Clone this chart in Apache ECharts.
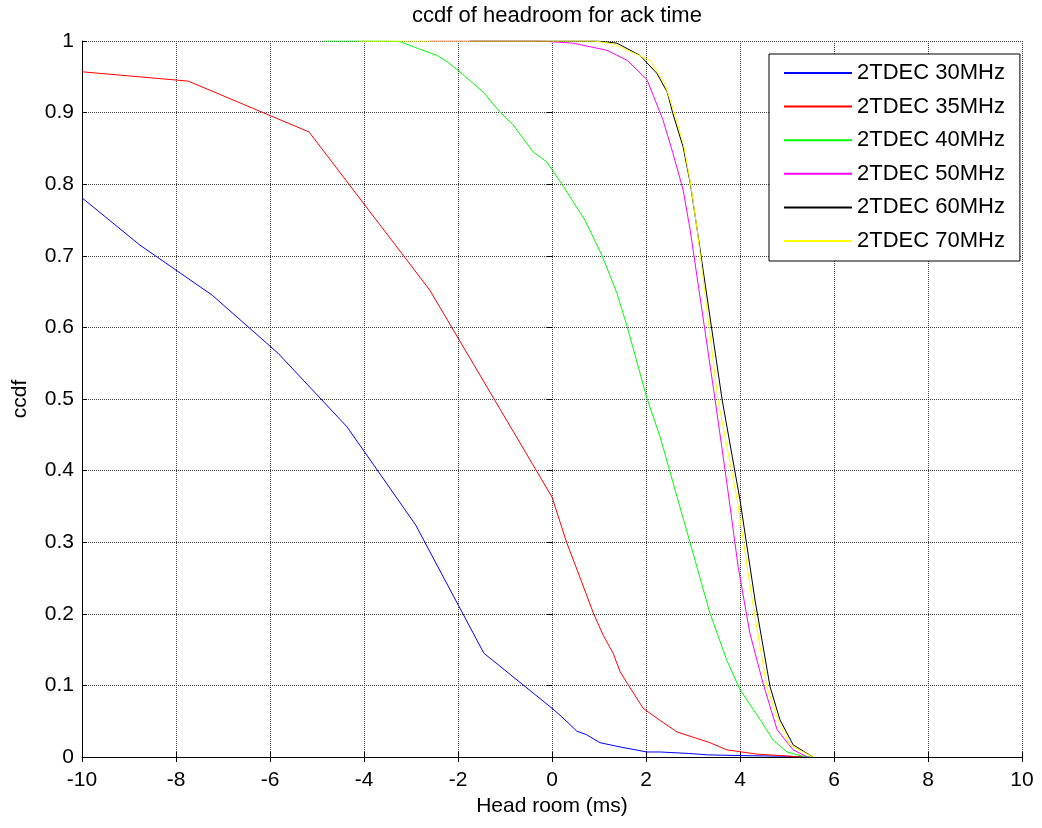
<!DOCTYPE html>
<html>
<head>
<meta charset="utf-8">
<title>ccdf of headroom for ack time</title>
<script src="https://cdn.jsdelivr.net/npm/echarts@6/dist/echarts.min.js"></script>
<style>
  html, body { margin: 0; padding: 0; background: #fff; }
  #chart { width: 1042px; height: 828px; }
</style>
</head>
<body>
<div id="chart"></div>
<script>
// Head room (ms) vs ccdf, one curve per TDEC clock
const seriesNames = ['2TDEC 30MHz', '2TDEC 35MHz', '2TDEC 40MHz', '2TDEC 50MHz', '2TDEC 60MHz', '2TDEC 70MHz'];
const seriesColors = ['#0000ff', '#ff0000', '#00ff00', '#ff00ff', '#000000', '#ffff00'];

const tdec30 = [
  [-10, 0.781], [-8.77, 0.715], [-7.23, 0.645], [-5.83, 0.564], [-4.36, 0.461],
  [-2.9, 0.324], [-1.45, 0.145], [0.02, 0.067], [0.21, 0.056], [0.53, 0.036],
  [0.74, 0.031], [1.02, 0.020], [1.45, 0.014], [2.02, 0.007], [2.3, 0.007],
  [2.9, 0.005], [3.3, 0.003], [4.0, 0.002], [5.0, 0.001], [5.5, 0]
];
const tdec35 = [
  [-10, 0.957], [-7.74, 0.944], [-5.17, 0.873], [-2.6, 0.652], [0.0, 0.363],
  [0.31, 0.30], [0.6, 0.25], [0.88, 0.201], [1.09, 0.170], [1.30, 0.145],
  [1.45, 0.119], [1.6, 0.103], [1.94, 0.068], [2.3, 0.051], [2.66, 0.035],
  [3.36, 0.020], [3.72, 0.010], [4.36, 0.004], [5.34, 0]
];
const tdec40 = [
  [-4.87, 1.0], [-3.51, 1.0], [-3.23, 0.999], [-2.87, 0.990], [-2.45, 0.980],
  [-2.23, 0.971], [-2.0, 0.959], [-1.47, 0.929], [-1.11, 0.901], [-0.83, 0.883],
  [-0.40, 0.845], [-0.11, 0.831], [0.21, 0.80], [0.70, 0.75], [1.06, 0.701],
  [1.38, 0.648], [1.60, 0.601], [2.02, 0.501], [2.30, 0.447], [2.77, 0.338],
  [2.94, 0.299], [3.36, 0.201], [3.72, 0.135], [4.0, 0.094], [4.43, 0.052],
  [4.70, 0.024], [5.0, 0.007], [5.34, 0.001], [5.5, 0]
];
const tdec50 = [
  [-2.6, 1.0], [-0.26, 1.0], [0.45, 0.997], [1.17, 0.987], [1.6, 0.973],
  [2.02, 0.946], [2.36, 0.890], [2.57, 0.844], [2.79, 0.792], [2.94, 0.736],
  [3.47, 0.499], [3.72, 0.383], [3.96, 0.266], [4.21, 0.173], [4.49, 0.103],
  [4.79, 0.038], [5.13, 0.010], [5.43, 0]
];
const tdec60 = [
  [-1.75, 1.0], [0.96, 1.0], [1.38, 0.997], [1.87, 0.980], [2.23, 0.955],
  [2.45, 0.929], [2.57, 0.899], [2.79, 0.852], [2.94, 0.802], [3.09, 0.736],
  [3.62, 0.499], [4.0, 0.359], [4.32, 0.219], [4.64, 0.098], [4.85, 0.052],
  [5.13, 0.017], [5.55, 0]
];
const tdec70 = [
  [-4.1, 1.0], [0.9, 1.0], [1.3, 0.996], [2.09, 0.973], [2.4, 0.94],
  [2.6, 0.9], [2.8, 0.855], [2.95, 0.80], [3.09, 0.736], [3.53, 0.499],
  [3.94, 0.359], [4.26, 0.219], [4.57, 0.098], [4.81, 0.052], [5.06, 0.017],
  [5.55, 0]
];
const seriesData = [tdec30, tdec35, tdec40, tdec50, tdec60, tdec70];

const xTicks = { min: -10, max: 10, interval: 2 };
const yTicks = { min: 0, max: 1, interval: 0.1 };

const FONT = "'Liberation Sans', Arial, Helvetica, sans-serif";
const gridDots = { color: '#3c3c3c', width: 1, type: [1, 1] };

const chart = echarts.init(document.getElementById('chart'), null, { renderer: 'canvas' });

const option = {
  backgroundColor: '#ffffff',
  animation: false,
  textStyle: { fontFamily: FONT, color: '#000' },
  title: {
    text: 'ccdf of headroom for ack time',
    left: 552,
    top: 0,
    textAlign: 'center',
    textStyle: { fontFamily: FONT, fontSize: 22, fontWeight: 'normal', color: '#000' }
  },
  grid: { left: 82, right: 20, top: 41, bottom: 71, containLabel: false },
  legend: {
    orient: 'vertical',
    left: 769,
    top: 54,
    padding: [8, 15, 9, 14],
    itemWidth: 68,
    itemHeight: 20,
    itemGap: 11.6,
    backgroundColor: '#ffffff',
    borderColor: '#000000',
    borderWidth: 1,
    itemStyle: { opacity: 0 },
    textStyle: { fontFamily: FONT, fontSize: 22, lineHeight: 20, color: '#000' },
    data: seriesNames
  },
  xAxis: [
    {
      type: 'value', min: xTicks.min, max: xTicks.max, interval: xTicks.interval,
      name: 'Head room (ms)', nameLocation: 'middle', nameGap: 35,
      nameTextStyle: { fontFamily: FONT, fontSize: 21, color: '#000' },
      axisLine: { show: true, onZero: false, lineStyle: { color: '#000', width: 1 } },
      axisTick: { show: true, inside: true, length: 5, lineStyle: { color: '#000' } },
      axisLabel: { margin: 13, fontFamily: FONT, fontSize: 21, color: '#000' },
      splitLine: { show: true, lineStyle: gridDots }
    },
    {
      type: 'value', position: 'top', min: xTicks.min, max: xTicks.max, interval: xTicks.interval,
      axisLine: { show: false },
      axisTick: { show: true, inside: true, length: 5, lineStyle: { color: '#000' } },
      axisLabel: { show: false },
      splitLine: { show: false }
    }
  ],
  yAxis: [
    {
      type: 'value', min: yTicks.min, max: yTicks.max, interval: yTicks.interval,
      name: 'ccdf', nameLocation: 'middle', nameGap: 51, nameRotate: 90,
      nameTextStyle: { fontFamily: FONT, fontSize: 21, color: '#000' },
      axisLine: { show: true, onZero: false, lineStyle: { color: '#000', width: 1 } },
      axisTick: { show: true, inside: true, length: 5, lineStyle: { color: '#000' } },
      axisLabel: {
        margin: 8, fontFamily: FONT, fontSize: 21, color: '#000',
        formatter: v => String(Math.round(v * 10) / 10)
      },
      splitLine: { show: true, lineStyle: gridDots }
    },
    {
      type: 'value', position: 'right', min: yTicks.min, max: yTicks.max, interval: yTicks.interval,
      axisLine: { show: false },
      axisTick: { show: true, inside: true, length: 5, lineStyle: { color: '#000' } },
      axisLabel: { show: false },
      splitLine: { show: false }
    }
  ],
  series: seriesNames.map((name, i) => ({
    name: name,
    type: 'line',
    xAxisIndex: 0,
    yAxisIndex: 0,
    data: seriesData[i],
    symbol: 'none',
    showSymbol: false,
    smooth: false,
    color: seriesColors[i],
    lineStyle: { color: seriesColors[i], width: 1 },
    emphasis: { disabled: true }
  }))
};

chart.setOption(option);
</script>
</body>
</html>
